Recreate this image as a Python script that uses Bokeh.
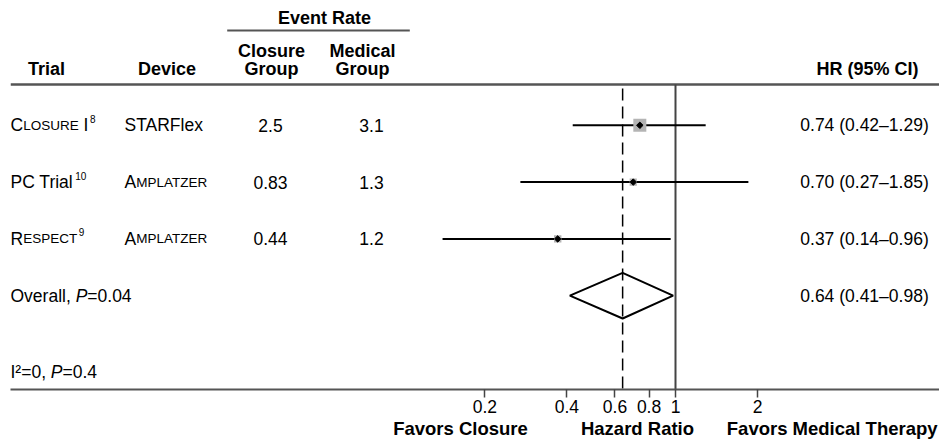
import math
from bokeh.plotting import figure
from bokeh.models import Range1d, FixedTicker, ColumnDataSource, LinearScale, LinearAxis
from bokeh.core.properties import value, field
from bokeh.embed import file_html
from bokeh.resources import INLINE

# ---------------- data ----------------
trials = ["Closure I", "PC Trial", "Respect"]
trial_smallcaps = [True, False, True]
trial_refs = ["8", "10", "9"]
devices = ["STARFlex", "Amplatzer", "Amplatzer"]
device_smallcaps = [False, True, True]
closure_rate = [2.5, 0.83, 0.44]
medical_rate = [3.1, 1.3, 1.2]
hr = [0.74, 0.70, 0.37]
hr_lo = [0.42, 0.27, 0.14]
hr_hi = [1.29, 1.85, 0.96]
study_weight = [1.0, 0.55, 0.57]
overall_hr = 0.64
overall_lo = 0.41
overall_hi = 0.98
overall_p = "0.04"
het_i2 = "0"
het_p = "0.4"
axis_ticks = [0.2, 0.4, 0.6, 0.8, 1, 2]
axis_tick_labels = ["0.2", "0.4", "0.6", "0.8", "1", "2"]
footer_labels = ["Favors Closure", "Hazard Ratio", "Favors Medical Therapy"]

# ---------------- layout ----------------
W, H = 939, 443
FRAME_L = 10
FRAME_B = 389
ROW0_PX = 124.8
ROW_STEP = 56.8
PX_PER_DEC = 272.8
ONE_PX = 675.0
FONT = "Liberation Sans"
BIG = 17.5
SMALL = 13.5
SUP = 10.0
FOOTER_X = [460, 637, 831.7]


def Y(px):
    return (ROW0_PX - px) / ROW_STEP


WID = {' ': 278, '.': 278, ',': 278, '=': 584, '(': 333, ')': 333, '%': 889, '\u2013': 556,
       'A': 667, 'B': 667, 'C': 722, 'D': 722, 'E': 667, 'F': 611, 'G': 778, 'H': 722, 'I': 278,
       'J': 500, 'K': 667, 'L': 556, 'M': 833, 'N': 722, 'O': 778, 'P': 667, 'Q': 778, 'R': 722,
       'S': 667, 'T': 611, 'U': 722, 'V': 667, 'W': 944, 'X': 667, 'Y': 667, 'Z': 611,
       'a': 556, 'b': 556, 'c': 500, 'd': 556, 'e': 556, 'f': 278, 'g': 556, 'h': 556, 'i': 222,
       'j': 222, 'k': 500, 'l': 222, 'm': 833, 'n': 556, 'o': 556, 'p': 556, 'q': 556, 'r': 333,
       's': 500, 't': 278, 'u': 556, 'v': 500, 'w': 722, 'x': 500, 'y': 500, 'z': 500,
       '\u00b2': 333}


def tw(s, size):
    return sum(WID.get(c, 556) for c in s) * size / 1000.0


def sc_runs(s, smallcaps):
    if not smallcaps:
        return [(s, BIG, "normal", 0.0)]
    runs = []
    for c in s:
        piece, sz = (c.upper(), SMALL) if c.islower() else (c, BIG)
        if runs and runs[-1][1] == sz:
            runs[-1] = (runs[-1][0] + piece, sz, "normal", 0.0)
        else:
            runs.append((piece, sz, "normal", 0.0))
    return runs


left = dict(x=[], y=[], text=[], size=[], style=[])


def put(x0, ypx, runs):
    x = x0
    for text, size, style, dy in runs:
        lead = len(text) - len(text.lstrip(" "))
        x += tw(" " * lead, size)
        core = text.strip(" ")
        if core:
            left["x"].append(x)
            left["y"].append(Y(ypx - dy))
            left["text"].append(core)
            left["size"].append(f"{size}px")
            left["style"].append(style)
        x += tw(text[lead:], size)
    return x


p = figure(width=W, height=H, x_axis_type="log",
           x_range=Range1d(10 ** ((FRAME_L - ONE_PX) / PX_PER_DEC), 10 ** ((W - ONE_PX) / PX_PER_DEC)),
           y_range=Range1d(Y(FRAME_B), Y(0)),
           y_axis_location=None, toolbar_location=None, output_backend="svg",
           min_border_left=FRAME_L, min_border_right=0, min_border_top=0, min_border_bottom=H - FRAME_B)
p.extra_x_ranges = {"px": Range1d(FRAME_L, W)}
p.extra_x_scales = {"px": LinearScale()}
p.outline_line_color = None
p.grid.visible = False
p.background_fill_color = "white"
p.border_fill_color = "white"

rows = [-float(i) for i in range(len(trials))]
row_px = [ROW0_PX + ROW_STEP * i for i in range(len(trials))]
overall_row = -float(len(trials))
overall_px = ROW0_PX + ROW_STEP * len(trials)

# header rules
p.segment(x0=[FRAME_L, 226.7], x1=[W, 409.3], y0=[Y(84), Y(30)], y1=[Y(84), Y(30)],
          x_range_name="px", line_color="#555555", line_width=[2.5, 2])

# overall diamond
dh = 22.8 / ROW_STEP
p.patch([overall_lo, overall_hr, overall_hi, overall_hr],
        [overall_row, overall_row + dh, overall_row, overall_row - dh],
        fill_color="white", line_color="black", line_width=2)

# reference lines
p.segment(x0=[1], x1=[1], y0=[Y(84)], y1=[Y(FRAME_B)], line_color="#444444", line_width=2)
p.segment(x0=[overall_hr], x1=[overall_hr], y0=[Y(84)], y1=[Y(FRAME_B)],
          line_color="black", line_width=1.5, line_dash="12 6", line_dash_offset=-4)

# CIs and boxes
p.segment(x0=hr_lo, x1=hr_hi, y0=rows, y1=rows, line_color="black", line_width=2)
p.scatter(hr, rows, marker="square", size=[13 * w for w in study_weight],
          fill_color="#b4b4b4", line_color=None)
p.scatter(hr, rows, marker="square", size=4.6, angle=math.pi / 4, color="black")

# table text
for i in range(len(trials)):
    x_end = put(10, row_px[i], sc_runs(trials[i], trial_smallcaps[i]))
    put(x_end + 1.5, row_px[i], [(trial_refs[i], SUP, "normal", 6.5)])
    put(124, row_px[i], sc_runs(devices[i], device_smallcaps[i]))
put(10, overall_px, [("Overall, ", BIG, "normal", 0), ("P", BIG, "italic", 0),
                     ("=" + overall_p, BIG, "normal", 0)])
put(10, 371, [("I\u00b2=" + het_i2 + ", ", BIG, "normal", 0), ("P", BIG, "italic", 0),
              ("=" + het_p, BIG, "normal", 0)])

p.text(x="x", y="y", text="text", source=ColumnDataSource(left), x_range_name="px",
       text_font=value(FONT), text_font_size=field("size"), text_font_style=field("style"),
       text_align="left", text_baseline="middle", text_color="black")

center = dict(x=[], y=[], text=[])
for i in range(len(trials)):
    center["x"] += [270, 371, 864]
    center["y"] += [rows[i]] * 3
    center["text"] += [f"{closure_rate[i]:g}", f"{medical_rate[i]:g}",
                       f"{hr[i]:.2f} ({hr_lo[i]:.2f}\u2013{hr_hi[i]:.2f})"]
center["x"].append(864)
center["y"].append(overall_row)
center["text"].append(f"{overall_hr:.2f} ({overall_lo:.2f}\u2013{overall_hi:.2f})")
p.text(x="x", y="y", text="text", source=ColumnDataSource(center), x_range_name="px",
       text_font=value(FONT), text_font_size=f"{BIG}px", text_align="center",
       text_baseline="middle", text_color="black")

hdr = dict(x=[324, 271, 271, 362, 362, 46, 166.5, 867],
           y=[Y(17), Y(50), Y(68), Y(50), Y(68), Y(68), Y(68), Y(68)],
           text=["Event Rate", "Closure", "Group", "Medical", "Group", "Trial", "Device", "HR (95% CI)"])
p.text(x="x", y="y", text="text", source=ColumnDataSource(hdr), x_range_name="px",
       text_font=value(FONT), text_font_size="18px", text_font_style="bold",
       text_align="center", text_baseline="middle", text_color="black")

# hazard-ratio axis
ax = p.xaxis[0]
ax.ticker = FixedTicker(ticks=axis_ticks, minor_ticks=[])
ax.major_label_overrides = dict(zip(axis_ticks, axis_tick_labels))
ax.axis_line_color = "#555555"
ax.axis_line_width = 2
ax.major_tick_out = 8
ax.major_tick_in = 0
ax.minor_tick_out = 0
ax.minor_tick_in = 0
ax.major_tick_line_color = "#444444"
ax.major_tick_line_width = 1.5
ax.major_label_standoff = 2
ax.major_label_text_font = FONT
ax.major_label_text_font_size = f"{BIG}px"
ax.major_label_text_color = "black"

# footer captions as a second, line-less axis
fax = LinearAxis(x_range_name="px", ticker=FixedTicker(ticks=FOOTER_X, minor_ticks=[]),
                 major_label_overrides=dict(zip(FOOTER_X, footer_labels)))
fax.axis_line_color = None
fax.major_tick_line_color = None
fax.minor_tick_line_color = None
fax.major_tick_out = 0
fax.major_tick_in = 0
fax.minor_tick_out = 0
fax.minor_tick_in = 0
fax.major_label_standoff = 2
fax.major_label_text_font = FONT
fax.major_label_text_font_size = "18.5px"
fax.major_label_text_font_style = "bold"
fax.major_label_text_color = "black"
p.add_layout(fax, "below")

open("out.html", "w").write(file_html(p, INLINE))
